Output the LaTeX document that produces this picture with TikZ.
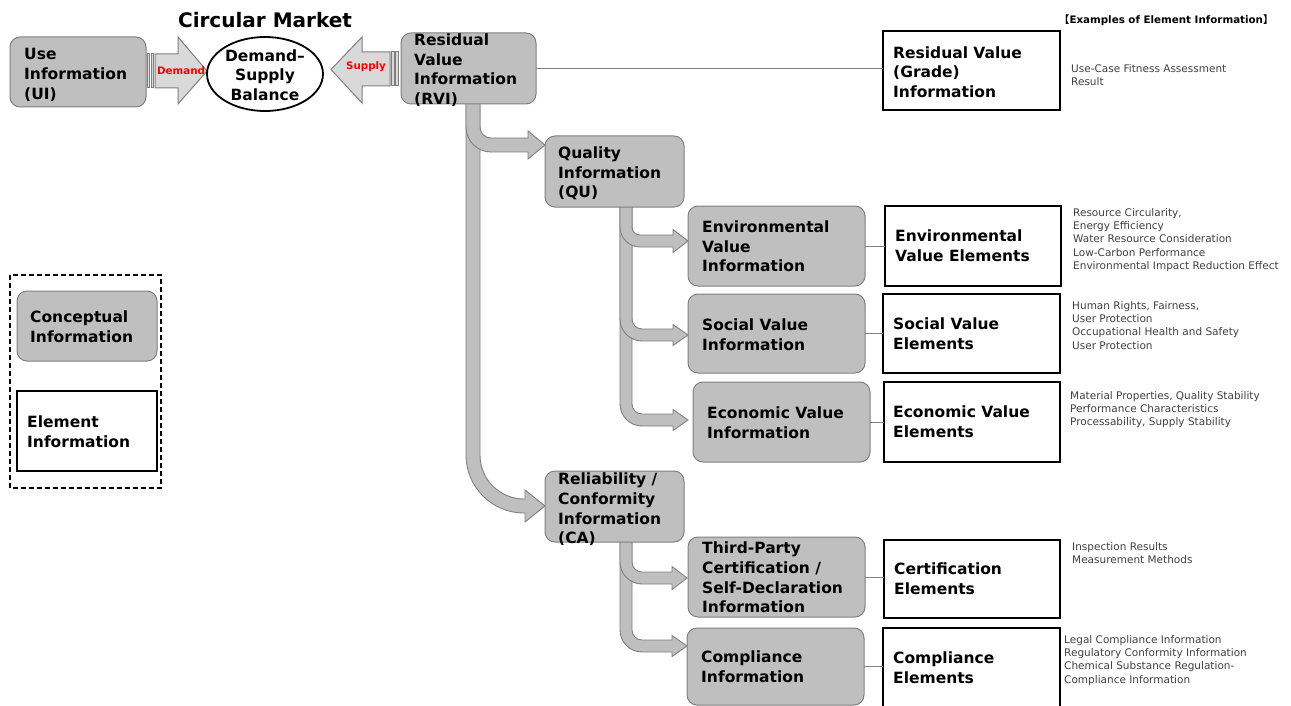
\documentclass[tikz,border=0pt]{standalone}
\usepackage{fontspec}
\setmainfont{DejaVu Sans}
\newfontfamily\cjk{Noto Sans CJK JP}
\usetikzlibrary{shapes.geometric}
\definecolor{cgray}{RGB}{191,191,191}
\definecolor{cedge}{RGB}{128,128,128}
\definecolor{lgray}{RGB}{217,217,217}
\definecolor{exgray}{RGB}{64,64,64}
\definecolor{lblred}{RGB}{255,0,0}
\tikzset{
  concept/.style={draw=cedge, fill=cgray, rounded corners=10, line width=1, inner sep=0, outer sep=0},
  element/.style={draw=black, fill=white, line width=1.8, inner sep=0, outer sep=0},
  lbl/.style={font=\fontsize{15.5}{19.7}\selectfont\bfseries, align=left, inner sep=0, text=black},
  ex/.style={font=\fontsize{10.5}{13.3}\selectfont, align=left, inner sep=0, text=exgray, anchor=north west},
  conn/.style={draw=cedge, line width=1},
  blockarrow/.style={draw=cedge, fill=cgray, line width=0.9},
  flowarrow/.style={draw=cedge, fill=lgray, line width=1},
  flowlbl/.style={font=\fontsize{10.3}{12}\selectfont\bfseries, text=lblred, inner sep=0},
}
% style, name, x1, y1, x2, y2, text shift options, text
\newcommand\infobox[8]{%
  \node[#1, anchor=north west, minimum width={#5-#3}, minimum height={#6-#4}] (#2) at (#3,#4) {};
  \node[lbl, anchor=west] (#2t) at ([#7]#2.west) {#8};
}
% xLeft, width, yStart, yTip, xTip, headLength, headHalf, outerRadius
\newcommand\bentarrow[8]{%
  \pgfmathsetmacro\bxL{#1}\pgfmathsetmacro\bxR{#1+#2}%
  \pgfmathsetmacro\byT{#4-#2/2}\pgfmathsetmacro\byB{#4+#2/2}%
  \pgfmathsetmacro\bR{#8}\pgfmathsetmacro\br{#8-#2}%
  \pgfmathsetmacro\bxH{#5-#6}%
  \pgfmathsetmacro\bhT{#4-#7}\pgfmathsetmacro\bhB{#4+#7}%
  \draw[blockarrow] (\bxL,#3) -- (\bxL,\byB-\bR)
    .. controls (\bxL,\byB-0.4477*\bR) and (\bxL+0.4477*\bR,\byB) .. (\bxL+\bR,\byB)
    -- (\bxH,\byB) -- (\bxH,\bhB) -- (#5,#4) -- (\bxH,\bhT) -- (\bxH,\byT)
    -- (\bxR+\br,\byT)
    .. controls (\bxR+0.4477*\br,\byT) and (\bxR,\byT-0.4477*\br) .. (\bxR,\byT-\br)
    -- (\bxR,#3) -- cycle;
}
\begin{document}
\begin{tikzpicture}[x=1pt, y=-1pt]
\useasboundingbox (0,0) rectangle (1291,706);

% block arrows (drawn beneath boxes)
\bentarrow{466}{14}{100}{506}{545}{20}{16}{58}
\bentarrow{466}{14}{100}{145}{545}{17}{14}{25}
\bentarrow{620}{12}{203}{420}{688}{15}{10.5}{22}
\bentarrow{620}{12}{203}{335}{688}{15}{10.5}{22}
\bentarrow{620}{12}{203}{241}{688}{15}{11.5}{20}
\bentarrow{620}{12}{538}{646}{687}{15}{10.5}{22}
\bentarrow{620}{12}{538}{578}{687}{15}{11.5}{22}

% title
\node[font=\fontsize{20}{24}\selectfont\bfseries, inner sep=0] (title) at (265,20) {Circular Market};

% demand arrow
\draw[flowarrow] (147,54) rectangle (149.5,88);
\draw[flowarrow] (151,54) rectangle (153.5,88);
\draw[flowarrow] (155,54) -- (178,54) -- (178,37) -- (207,71) -- (178,104) -- (178,88) -- (155,88) -- cycle;
\node[flowlbl] (dem) at (181,71) {Demand};

% supply arrow
\draw[flowarrow] (398,52) rectangle (395.5,86);
\draw[flowarrow] (394,52) rectangle (391.5,86);
\draw[flowarrow] (390,52) -- (362,52) -- (362,37) -- (331,69.5) -- (362,103) -- (362,86) -- (390,86) -- cycle;
\node[flowlbl] (sup) at (366,67) {Supply};

% balance ellipse
\node[draw, ellipse, line width=1.8, minimum width=116, minimum height=74, inner sep=0, outer sep=0] (bal) at (265,74) {};
\node[lbl, align=center] (balt) at (265,75) {Demand–\\Supply\\Balance};

% conceptual boxes
\infobox{concept}{ui}{10}{37}{146}{107}{xshift=14,yshift=-3}{Use\\Information\\(UI)}
\infobox{concept}{rvi}{401}{33}{536}{104}{xshift=13,yshift=-1.5}{Residual\\Value\\Information\\(RVI)}
\infobox{concept}{qu}{545}{136}{684}{207}{xshift=13,yshift=-2}{Quality\\Information\\(QU)}
\infobox{concept}{env}{688}{206}{865}{286}{xshift=14,yshift=-0.5}{Environmental\\Value\\Information}
\infobox{concept}{soc}{688}{294}{865}{373}{xshift=14,yshift=-1}{Social Value\\Information}
\infobox{concept}{eco}{693}{382}{870}{462}{xshift=14,yshift=-1}{Economic Value\\Information}
\infobox{concept}{ca}{545}{471}{684}{542}{xshift=13,yshift=-3}{Reliability /\\Conformity\\Information\\(CA)}
\infobox{concept}{tpc}{688}{537}{865}{617}{xshift=14,yshift=-0.5}{Third-Party\\Certification /\\Self-Declaration\\Information}
\infobox{concept}{cmp}{687}{628}{864}{705}{xshift=14,yshift=-0.5}{Compliance\\Information}

% element boxes
\infobox{element}{rvg}{883}{31}{1060}{110}{xshift=10,yshift=-1.5}{Residual Value\\(Grade)\\Information}
\infobox{element}{envE}{885}{206}{1061}{286}{xshift=10}{Environmental\\Value Elements}
\infobox{element}{socE}{883}{294}{1060}{373}{xshift=10}{Social Value\\Elements}
\infobox{element}{ecoE}{884}{382}{1060}{462}{xshift=9}{Economic Value\\Elements}
\infobox{element}{cerE}{884}{540}{1060}{618}{xshift=10}{Certification\\Elements}
\infobox{element}{cmpE}{883}{628}{1060}{710}{xshift=10,yshift=1}{Compliance\\Elements}

% connectors
\draw[conn] (rvi.east) -- (rvi.east -| rvg.west);
\draw[conn] (env.east) -- (env.east -| envE.west);
\draw[conn] (soc.east) -- (soc.east -| socE.west);
\draw[conn] (eco.east) -- (eco.east -| ecoE.west);
\draw[conn] (tpc.east) -- (tpc.east -| cerE.west);
\draw[conn] (cmp.east) -- (cmp.east -| cmpE.west);

% examples
\node[inner sep=0, anchor=west, font=\fontsize{10.3}{12}\selectfont\bfseries] (exh) at (1059,20) {{\cjk 【}Examples of Element Information{\cjk 】}};
\node[ex] (ex1) at (1071,64) {Use-Case Fitness Assessment\\Result};
\node[ex] (ex2) at (1073,208) {Resource Circularity,\\Energy Efficiency\\Water Resource Consideration\\Low-Carbon Performance\\Environmental Impact Reduction Effect};
\node[ex] (ex3) at (1072,301) {Human Rights, Fairness,\\User Protection\\Occupational Health and Safety\\User Protection};
\node[ex] (ex4) at (1070,391) {Material Properties, Quality Stability\\Performance Characteristics\\Processability, Supply Stability};
\node[ex] (ex5) at (1072,542) {Inspection Results\\Measurement Methods};
\node[ex] (ex6) at (1064,635) {Legal Compliance Information\\Regulatory Conformity Information\\Chemical Substance Regulation-\\Compliance Information};

% legend
\draw[black, line width=1.5, dash pattern=on 5 off 3] (10,275) rectangle (161,488);
\infobox{concept}{legC}{17}{291}{157}{361}{xshift=13,yshift=-1}{Conceptual\\Information}
\infobox{element}{legE}{17}{391}{157}{471}{xshift=10,yshift=-1}{Element\\Information}
\end{tikzpicture}
\end{document}
